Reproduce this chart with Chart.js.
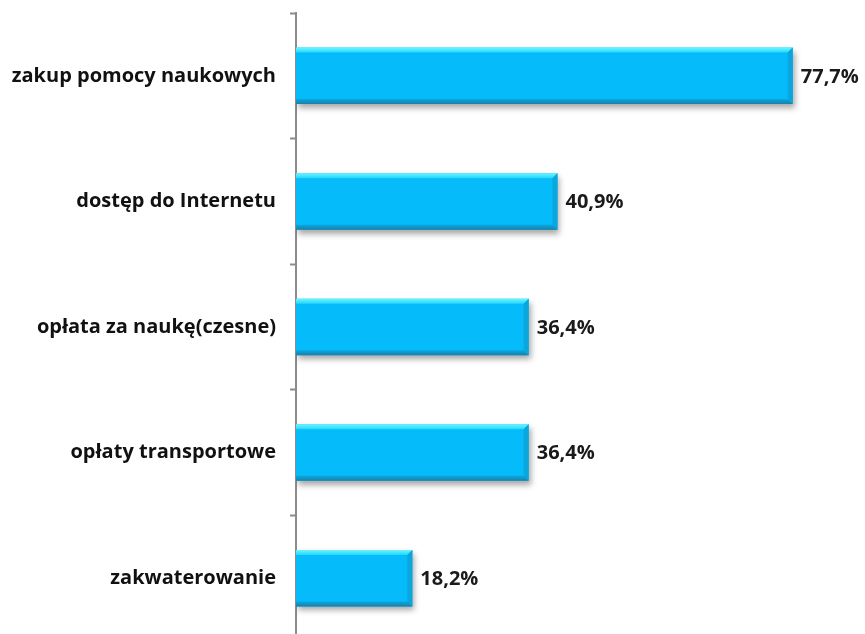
<!DOCTYPE html>
<html lang="pl">
<head>
  <meta charset="UTF-8">
  <title>Wydatki</title>
  <script src="https://cdn.jsdelivr.net/npm/chart.js"></script>
  <style>
    html, body {
      margin: 0;
      padding: 0;
      background: #fff;
      overflow: hidden;
    }
    #chartContainer {
      width: 865px;
      height: 641px;
    }
  </style>
</head>
<body>
  <div id="chartContainer">
    <canvas id="myChart"></canvas>
  </div>

  <script>
    const categories = ['zakup pomocy naukowych', 'dostęp do Internetu', 'opłata za naukę(czesne)', 'opłaty transportowe', 'zakwaterowanie'];
    const values = [77.7, 40.9, 36.4, 36.4, 18.2];
    const valueLabels = ['77,7%', '40,9%', '36,4%', '36,4%', '18,2%'];

    const labelFont = "bold 20px 'Open Sans', sans-serif";

    // shadow under bars + bevel on top, right and bottom edges
    const bevelPlugin = {
      id: 'bevel',
      beforeDatasetsDraw(chart) {
        const ctx = chart.ctx;
        ctx.save();
        ctx.shadowColor = 'rgba(0,0,0,0.35)';
        ctx.shadowBlur = 6;
        ctx.shadowOffsetX = 2;
        ctx.shadowOffsetY = 4;
      },
      afterDatasetsDraw(chart) {
        const ctx = chart.ctx;
        ctx.restore();
        const meta = chart.getDatasetMeta(0);
        meta.data.forEach(function (bar, i) {
          const left = bar.base, right = bar.x;
          const top = bar.y - bar.height / 2, bottom = bar.y + bar.height / 2;
          const b = 5;
          ctx.save();
          // top bevel
          let g = ctx.createLinearGradient(0, top, 0, top + b);
          g.addColorStop(0, '#6ff4ff');
          g.addColorStop(1, '#22d8fc');
          ctx.fillStyle = g;
          ctx.beginPath();
          ctx.moveTo(left, top);
          ctx.lineTo(right, top);
          ctx.lineTo(right - b, top + b);
          ctx.lineTo(left, top + b);
          ctx.closePath();
          ctx.fill();
          // right bevel
          ctx.fillStyle = '#0aa6dc';
          ctx.beginPath();
          ctx.moveTo(right, top);
          ctx.lineTo(right, bottom);
          ctx.lineTo(right - b, bottom - b);
          ctx.lineTo(right - b, top + b);
          ctx.closePath();
          ctx.fill();
          // bottom bevel
          g = ctx.createLinearGradient(0, bottom - b, 0, bottom);
          g.addColorStop(0, '#08a8e2');
          g.addColorStop(1, '#1b7fa6');
          ctx.fillStyle = g;
          ctx.beginPath();
          ctx.moveTo(left, bottom);
          ctx.lineTo(right, bottom);
          ctx.lineTo(right - b, bottom - b);
          ctx.lineTo(left, bottom - b);
          ctx.closePath();
          ctx.fill();
          // value label
          ctx.fillStyle = '#1a1a1a';
          ctx.font = labelFont;
          ctx.textAlign = 'left';
          ctx.textBaseline = 'middle';
          ctx.fillText(valueLabels[i], right + 8, bar.y + 1);
          ctx.restore();
        });
      }
    };

    const ctx = document.getElementById('myChart').getContext('2d');
    new Chart(ctx, {
      type: 'bar',
      data: {
        labels: categories,
        datasets: [{
          data: values,
          backgroundColor: '#06bbfa',
          borderWidth: 0,
          barPercentage: 1,
          categoryPercentage: 0.45
        }]
      },
      options: {
        indexAxis: 'y',
        responsive: true,
        maintainAspectRatio: false,
        animation: false,
        layout: { padding: { top: 13, right: 0, bottom: 0, left: 0 } },
        plugins: {
          legend: { display: false },
          tooltip: { enabled: false }
        },
        scales: {
          x: {
            display: false,
            min: 0,
            max: 89
          },
          y: {
            afterFit(scale) {
              scale.width = 296;
              scale.paddingTop = 0;
              scale.paddingBottom = 0;
            },
            border: { display: true, color: '#8c8c8c', width: 2 },
            grid: {
              display: true,
              offset: true,
              drawOnChartArea: false,
              drawTicks: true,
              tickLength: 6,
              tickWidth: 2,
              color: '#8c8c8c'
            },
            ticks: {
              color: '#111',
              padding: 14,
              font: { family: "'Open Sans', sans-serif", size: 20, weight: 'bold' }
            }
          }
        }
      },
      plugins: [bevelPlugin]
    });
  </script>
</body>
</html>
